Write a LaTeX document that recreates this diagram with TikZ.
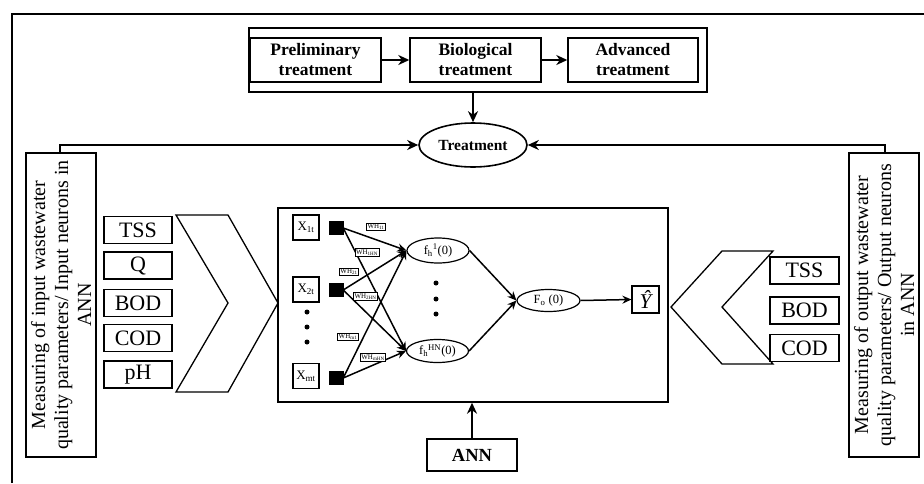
\documentclass[tikz,border=0pt]{standalone}
\usepackage{fontspec}
\setmainfont{Liberation Serif}
\usetikzlibrary{arrows.meta,shapes.geometric}
\begin{document}
\begin{tikzpicture}[x=1pt,y=-1pt,
  box/.style={draw,line width=1.4pt,inner sep=0pt,align=center},
  topbox/.style={box,minimum width=131,minimum height=44,font=\fontsize{17.5}{20}\selectfont\bfseries},
  parbox/.style={box,minimum width=68,minimum height=27,font=\fontsize{22}{24}\selectfont},
  vbox/.style={box,rotate=90,minimum width=304,minimum height=70,font=\fontsize{20}{23}\selectfont},
  xbox/.style={draw,line width=1.2pt,minimum width=26,minimum height=25,inner sep=0pt,font=\fontsize{13}{15}\selectfont},
  sq/.style={fill=black,draw=black,minimum width=14,minimum height=13,inner sep=0pt},
  neur/.style={draw,ellipse,line width=1.2pt,inner sep=0pt,font=\fontsize{12.5}{14}\selectfont},
  wlab/.style={draw,fill=white,line width=0.8pt,inner sep=1pt,font=\fontsize{7}{8}\selectfont},
  bigarr/.style={line width=2pt,-{Stealth[length=11pt,width=10pt,inset=3.5pt]}},
  netarr/.style={line width=1.5pt,-{Stealth[length=9pt,width=8pt,inset=3pt]}},
  dot/.style={circle,fill=black,inner sep=0pt,minimum size=5}
]
\useasboundingbox (0,0) rectangle (924,483);
% outer frame
\draw[line width=2pt] (12,483) -- (12,14) -- (924,14);

% top group
\node[box,minimum width=458,minimum height=64] (grp) at (478,60) {};
\node[topbox] (prel) at (315.5,60) {Preliminary\\treatment};
\node[topbox] (bio) at (475.5,60) {Biological\\treatment};
\node[topbox,minimum width=130] (adv) at (633,60) {Advanced\\treatment};
\draw[bigarr] (prel) -- (bio);
\draw[bigarr] (bio) -- (adv);

% treatment
\node[draw,ellipse,line width=1.6pt,minimum width=108,minimum height=44,inner sep=0pt,font=\fontsize{15.5}{17}\selectfont\bfseries] (treat) at (473,145) {Treatment};
\draw[bigarr] (grp.south -| treat.north) -- (treat.north);

% side boxes
\node[vbox] (lbox) at (61,305) {Measuring of input wastewater\\quality parameters/ Input neurons in\\ANN};
\node[vbox] (rbox) at (884,305) {Measuring of output wastewater\\quality parameters/ Output neurons\\in ANN};
\coordinate (lc) at (60,145);
\coordinate (rc) at (885,145);
\draw[bigarr] (lc |- lbox.east) -- (lc) -- (treat.west);
\draw[bigarr] (rc |- rbox.east) -- (rc) -- (treat.east);

% input parameters
\node[parbox] (iTSS) at (138,230) {TSS};
\node[parbox] (iQ) at (138,265.5) {Q};
\node[parbox] (iBOD) at (138,303) {BOD};
\node[parbox] (iCOD) at (138,338) {COD};
\node[parbox] (ipH) at (138,374.5) {pH};

% output parameters
\node[parbox,minimum width=69] (oTSS) at (804.5,270.5) {TSS};
\node[parbox,minimum width=69] (oBOD) at (804.5,310.5) {BOD};
\node[parbox,minimum width=69] (oCOD) at (804.5,348) {COD};

% chevrons
\draw[line width=1.3pt,line join=miter] (176,215) -- (228,215) -- (278,303) -- (228,392) -- (176,392) -- (228,303) -- cycle;
\draw[line width=1.3pt,line join=miter] (671,307) -- (722,251) -- (773,251) -- (722,307) -- (773,364) -- (722,364) -- cycle;

% main ANN box
\node[box,minimum width=390,minimum height=194] (main) at (473,305) {};
\node[box,minimum width=90,minimum height=32,font=\fontsize{18.5}{20}\selectfont\bfseries] (ann) at (472,455) {ANN};
\draw[bigarr] (ann.north) -- (ann.north |- main.south);

% network inputs
\node[xbox] (x1) at (306,227.5) {X\textsubscript{1t}};
\node[xbox] (x2) at (306,289.5) {X\textsubscript{2t}};
\node[xbox] (xm) at (306,376) {X\textsubscript{mt}};
\node[sq] (s1) at (336,228) {};
\node[sq] (s2) at (336,290) {};
\node[sq] (sm) at (336,378) {};
\node[dot] (d1) at (307,312) {};
\node[dot] (d2) at (307,327) {};
\node[dot] (d3) at (307,342) {};

% hidden neurons
\node[neur,minimum width=62,minimum height=25] (h1) at (438,250.5) {f\textsubscript{h}\textsuperscript{1}(0)};
\node[neur,minimum width=62,minimum height=23] (hN) at (437.5,351) {f\textsubscript{h}\textsuperscript{HN}(0)};
\node[dot] (e1) at (436,283) {};
\node[dot] (e2) at (436,299) {};
\node[dot] (e3) at (436,314) {};

% output neuron
\node[neur,minimum width=63,minimum height=22] (fo) at (548.5,300.5) {F\textsubscript{o} (0)};
\node[draw,line width=1.2pt,minimum width=27,minimum height=27,inner sep=0pt,font=\fontsize{21}{22}\selectfont\itshape] (yh) at (645.5,299.5) {Ŷ};

% connections
\draw[netarr] (s1.east) -- (h1.west);
\draw[netarr] (s1.east) -- (hN.west);
\draw[netarr] (s2.east) -- (h1.west);
\draw[netarr] (s2.east) -- (hN.west);
\draw[netarr] (sm.east) -- (h1.west);
\draw[netarr] (sm.east) -- (hN.west);
\draw[netarr] (h1.east) -- (fo.west);
\draw[netarr] (hN.east) -- (fo.west);
\draw[netarr] (fo.east) -- (yh.west);

% weight labels
\node[wlab] (w11) at (376,227) {WH\textsubscript{11}};
\node[wlab] (w1n) at (367,252.5) {WH\textsubscript{1HN}};
\node[wlab] (w21) at (349,272) {WH\textsubscript{21}};
\node[wlab] (w2n) at (365.5,296.5) {WH\textsubscript{2HN}};
\node[wlab] (wm1) at (348,337) {WH\textsubscript{m1}};
\node[wlab] (wmn) at (373,357.5) {WH\textsubscript{mHN}};
\end{tikzpicture}
\end{document}
